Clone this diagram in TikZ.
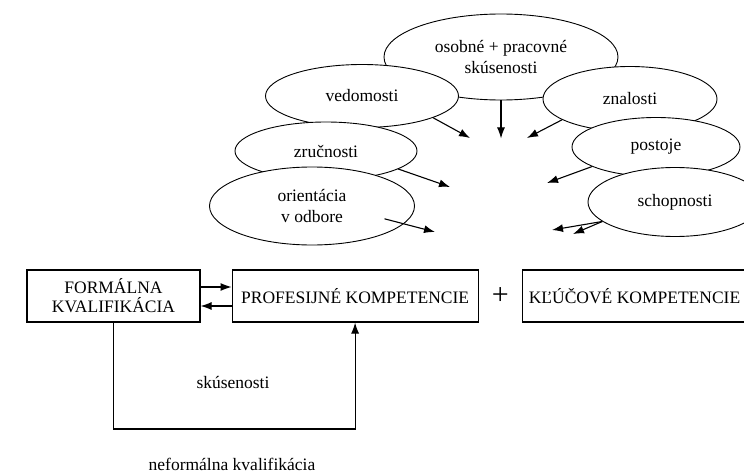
\documentclass[tikz,border=0pt]{standalone}
\usepackage{fontspec}
\setmainfont{Liberation Serif}
\usetikzlibrary{shapes,arrows.meta,positioning}

\begin{document}
\begin{tikzpicture}[x=1pt, y=-1pt, node distance=0pt,
        bubble/.style={ellipse, draw, fill=white, line width=0.9pt, inner sep=0pt, align=center, font=\fontsize{17.5}{21}\selectfont},
        box/.style={rectangle, draw, line width=1.1pt, minimum height=52pt, inner sep=0pt, align=center, font=\fontsize{17.5}{19}\selectfont},
        line/.style={draw, -{Latex[length=11pt,width=8pt]}, line width=1.1pt},
        label/.style={font=\fontsize{17.5}{19}\selectfont}
    ]
        \useasboundingbox (0,0) rectangle (744,476);
        % Ellipses
        \node[bubble, minimum width=234pt, minimum height=86pt] (osobne) at (501,57) {osobné + pracovné\\skúsenosti};
        \node[bubble, minimum width=193pt, minimum height=63pt] (vedomosti) at (362,96) {vedomosti};
        \node[bubble, minimum width=182pt, minimum height=58pt] (zrucnosti) at (326,151) {zručnosti};
        \node[bubble, minimum width=205pt, minimum height=78pt] (orientacia) at (312,206) {orientácia\\v odbore};
        \node[bubble, minimum width=174pt, minimum height=65pt] (znalosti) at (630,99) {znalosti};
        \node[bubble, minimum width=168pt, minimum height=59pt] (postoje) at (656,147) {postoje};
        \node[bubble, minimum width=174pt, minimum height=69pt] (schopnosti) at (675,202) {schopnosti};
        % Arrow tips
        \coordinate[below=38pt of osobne.south] (osobne_tip);
        \coordinate (vedomosti_tip) at (470,138);
        \coordinate (zrucnosti_tip) at (450,187);
        \coordinate (orientacia_tip) at (435,232);
        \coordinate (znalosti_tip) at (527,138);
        \coordinate (postoje_tip) at (547,183);
        \coordinate (schopnosti_tip) at (552,230);
        \coordinate (schopnosti_tip2) at (573,234);
        % Boxes
        \node[box, minimum width=173pt] (formalna) at (113.5,296) {FORMÁLNA\\KVALIFIKÁCIA};
        \node[box, minimum width=246pt, right=31pt of formalna] (profesijne) {PROFESIJNÉ KOMPETENCIE};
        \node[inner sep=0pt, font=\fontsize{30}{30}\selectfont, right=13pt of profesijne] (plus) {+};
        \node[box, minimum width=224pt, right=13pt of plus] (klucove) {KĽÚČOVÉ KOMPETENCIE};
        % Texts
        \coordinate (loopbase) at (0,429);
        \node[label] (skusenosti) at (233,382) {skúsenosti};
        \node[label] (neformalna) at (232,464) {neformálna kvalifikácia};
        % Connections
        \path[line] (osobne.south) -- (osobne_tip);
        \path[line] (vedomosti.-17) -- (vedomosti_tip);
        \path[line] (zrucnosti.-14) -- (zrucnosti_tip);
        \path[line, shorten <=-20pt] (orientacia.-11) -- (orientacia_tip);
        \path[line] (znalosti.197) -- (znalosti_tip);
        \path[line] (postoje.197) -- (postoje_tip);
        \path[line] (schopnosti.195) -- (schopnosti_tip);
        \path[line] (schopnosti.195) -- (schopnosti_tip2);
        \path[line] ([yshift=9pt]formalna.east) -- ([yshift=9pt]formalna.east -| profesijne.west);
        \path[line] ([yshift=-10pt]formalna.east -| profesijne.west) -- ([yshift=-10pt]formalna.east);
        \path[line] (formalna.south) -- (formalna.south |- loopbase) -| (profesijne.south);

    \end{tikzpicture}
\end{document}
